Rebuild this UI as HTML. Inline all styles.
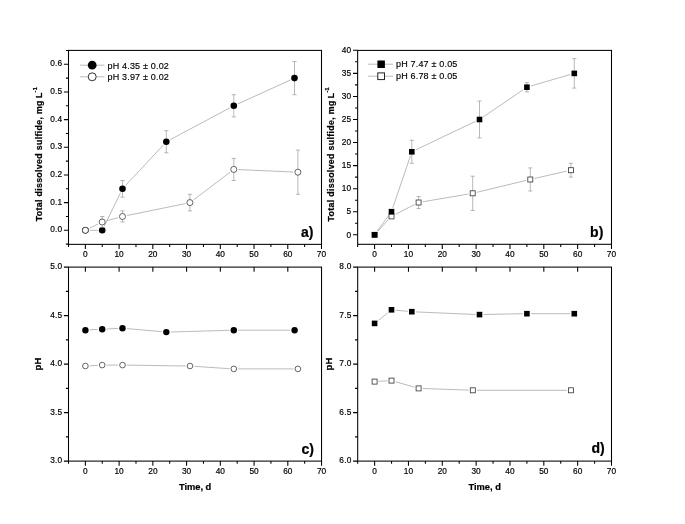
<!DOCTYPE html>
<html><head><meta charset="utf-8"><title>Figure</title>
<style>html,body{margin:0;padding:0;background:#fff}body{width:685px;height:524px;overflow:hidden}svg{display:block}</style>
</head><body>
<svg width="685" height="524" viewBox="0 0 685 524" font-family='"Liberation Sans", sans-serif'>
<rect width="685" height="524" fill="#fff"/>
<g stroke="#000" stroke-width="1.05" fill="none">
<rect x="68.5" y="50.4" width="253.00" height="193.95"/>
<path d="M85.37 244.35v4.6M119.10 244.35v4.6M152.83 244.35v4.6M186.57 244.35v4.6M220.30 244.35v4.6M254.03 244.35v4.6M287.77 244.35v4.6M321.50 244.35v4.6M68.50 244.35v2.6M102.23 244.35v2.6M135.97 244.35v2.6M169.70 244.35v2.6M203.43 244.35v2.6M237.17 244.35v2.6M270.90 244.35v2.6M304.63 244.35v2.6M68.5 230.30h-4.6M68.5 202.63h-4.6M68.5 174.97h-4.6M68.5 147.30h-4.6M68.5 119.63h-4.6M68.5 91.97h-4.6M68.5 64.30h-4.6M68.5 244.13h-2.6M68.5 216.47h-2.6M68.5 188.80h-2.6M68.5 161.13h-2.6M68.5 133.47h-2.6M68.5 105.80h-2.6M68.5 78.13h-2.6M68.5 50.46h-2.6"/>
</g>
<g font-size="8.3" fill="#000" stroke="#000" stroke-width="0.18" text-anchor="middle" letter-spacing="0.05">
<text x="85.4" y="257.4">0</text>
<text x="119.1" y="257.4">10</text>
<text x="152.8" y="257.4">20</text>
<text x="186.6" y="257.4">30</text>
<text x="220.3" y="257.4">40</text>
<text x="254.0" y="257.4">50</text>
<text x="287.8" y="257.4">60</text>
<text x="321.5" y="257.4">70</text>
</g>
<g font-size="8.3" fill="#000" stroke="#000" stroke-width="0.18" text-anchor="end" letter-spacing="0.2">
<text x="62.3" y="232.4">0.0</text>
<text x="62.3" y="204.7">0.1</text>
<text x="62.3" y="177.1">0.2</text>
<text x="62.3" y="149.4">0.3</text>
<text x="62.3" y="121.7">0.4</text>
<text x="62.3" y="94.1">0.5</text>
<text x="62.3" y="66.4">0.6</text>
</g>
<path d="M89.9 230.3L97.7 230.3M104.2 226.3L120.5 192.8M125.5 185.5L163.3 145.1M170.3 139.6L229.8 107.9M237.9 103.9L290.4 80.0" fill="none" stroke="#828282" stroke-width="0.55"/>
<g stroke="#8a8a8a" stroke-width="0.6" fill="none">
<path d="M122.5 180.5V197.1M120.4 180.5h4.2M120.4 197.1h4.2"/>
<path d="M166.3 130.7V152.8M164.2 130.7h4.2M164.2 152.8h4.2"/>
<path d="M233.8 94.7V116.9M231.7 94.7h4.2M231.7 116.9h4.2"/>
<path d="M294.5 61.5V94.7M292.4 61.5h4.2M292.4 94.7h4.2"/>
</g>
<circle cx="85.4" cy="230.3" r="3.30" fill="#000"/>
<circle cx="102.2" cy="230.3" r="3.30" fill="#000"/>
<circle cx="122.5" cy="188.8" r="3.30" fill="#000"/>
<circle cx="166.3" cy="141.8" r="3.30" fill="#000"/>
<circle cx="233.8" cy="105.8" r="3.30" fill="#000"/>
<circle cx="294.5" cy="78.1" r="3.30" fill="#000"/>
<path d="M89.5 228.3L98.1 224.0M106.7 220.8L118.0 217.7M127.0 215.5L185.4 203.6M193.6 199.9L230.1 172.2M238.4 169.6L293.3 172.0" fill="none" stroke="#828282" stroke-width="0.55"/>
<g stroke="#8a8a8a" stroke-width="0.6" fill="none">
<path d="M102.2 216.5V227.5M100.1 216.5h4.2M100.1 227.5h4.2"/>
<path d="M122.5 210.9V222.0M120.4 210.9h4.2M120.4 222.0h4.2"/>
<path d="M189.9 194.3V210.9M187.8 194.3h4.2M187.8 210.9h4.2"/>
<path d="M233.8 158.4V180.5M231.7 158.4h4.2M231.7 180.5h4.2"/>
<path d="M297.9 150.1V194.3M295.8 150.1h4.2M295.8 194.3h4.2"/>
</g>
<circle cx="85.4" cy="230.3" r="3.03" fill="#fff" stroke="#333" stroke-width="0.75"/>
<circle cx="102.2" cy="222.0" r="3.03" fill="#fff" stroke="#333" stroke-width="0.75"/>
<circle cx="122.5" cy="216.5" r="3.03" fill="#fff" stroke="#333" stroke-width="0.75"/>
<circle cx="189.9" cy="202.6" r="3.03" fill="#fff" stroke="#333" stroke-width="0.75"/>
<circle cx="233.8" cy="169.4" r="3.03" fill="#fff" stroke="#333" stroke-width="0.75"/>
<circle cx="297.9" cy="172.2" r="3.03" fill="#fff" stroke="#333" stroke-width="0.75"/>
<line x1="80" y1="65.2" x2="104.5" y2="65.2" stroke="#828282" stroke-width="0.55"/>
<circle cx="92.2" cy="65.2" r="4.35" fill="#000"/>
<text x="107.5" y="68.6" font-size="9" letter-spacing="0.18" fill="#000" stroke="#000" stroke-width="0.15">pH 4.35 ± 0.02</text>
<line x1="80" y1="76.8" x2="104.5" y2="76.8" stroke="#828282" stroke-width="0.55"/>
<circle cx="92.2" cy="76.8" r="3.98" fill="#fff" stroke="#1a1a1a" stroke-width="0.9"/>
<text x="107.5" y="80.2" font-size="9" letter-spacing="0.18" fill="#000" stroke="#000" stroke-width="0.15">pH 3.97 ± 0.02</text>
<text x="300.9" y="236.9" font-size="14" font-weight="bold" fill="#000" stroke="#000" stroke-width="0.22">a)</text>
<text transform="translate(42.3,154.1) rotate(-90)" text-anchor="middle" font-size="8.8" letter-spacing="0.33" font-weight="bold" fill="#000" stroke="#000" stroke-width="0.22">Total dissolved sulfide, mg<tspan dx="-0.7"> L</tspan><tspan font-size="5.5" dy="-5">-1</tspan></text>
<g stroke="#000" stroke-width="1.05" fill="none">
<rect x="357.65" y="50.4" width="253.85" height="193.90"/>
<path d="M374.57 244.3v4.6M408.42 244.3v4.6M442.27 244.3v4.6M476.11 244.3v4.6M509.96 244.3v4.6M543.81 244.3v4.6M577.65 244.3v4.6M611.50 244.3v4.6M357.65 244.3v2.6M391.50 244.3v2.6M425.34 244.3v2.6M459.19 244.3v2.6M493.04 244.3v2.6M526.88 244.3v2.6M560.73 244.3v2.6M594.58 244.3v2.6M357.65 234.80h-4.6M357.65 211.74h-4.6M357.65 188.68h-4.6M357.65 165.61h-4.6M357.65 142.55h-4.6M357.65 119.49h-4.6M357.65 96.43h-4.6M357.65 73.36h-4.6M357.65 50.30h-4.6M357.65 223.27h-2.6M357.65 200.21h-2.6M357.65 177.14h-2.6M357.65 154.08h-2.6M357.65 131.02h-2.6M357.65 107.96h-2.6M357.65 84.89h-2.6M357.65 61.83h-2.6"/>
</g>
<g font-size="8.3" fill="#000" stroke="#000" stroke-width="0.18" text-anchor="middle" letter-spacing="0.05">
<text x="374.6" y="257.3">0</text>
<text x="408.4" y="257.3">10</text>
<text x="442.3" y="257.3">20</text>
<text x="476.1" y="257.3">30</text>
<text x="510.0" y="257.3">40</text>
<text x="543.8" y="257.3">50</text>
<text x="577.7" y="257.3">60</text>
<text x="611.5" y="257.3">70</text>
</g>
<g font-size="8.3" fill="#000" stroke="#000" stroke-width="0.18" text-anchor="end" letter-spacing="0.2">
<text x="351.2" y="237.5" letter-spacing="0.05">0</text>
<text x="351.2" y="214.4" letter-spacing="0.05">5</text>
<text x="351.2" y="191.4" letter-spacing="0.05">10</text>
<text x="351.2" y="168.3" letter-spacing="0.05">15</text>
<text x="351.2" y="145.2" letter-spacing="0.05">20</text>
<text x="351.2" y="122.2" letter-spacing="0.05">25</text>
<text x="351.2" y="99.1" letter-spacing="0.05">30</text>
<text x="351.2" y="76.1" letter-spacing="0.05">35</text>
<text x="351.2" y="53.0" letter-spacing="0.05">40</text>
</g>
<path d="M377.9 231.1L388.1 220.0M395.5 214.3L414.6 204.5M422.7 201.8L468.6 194.0M476.8 192.3L526.2 180.4M534.3 178.5L566.8 171.1" fill="none" stroke="#828282" stroke-width="0.55"/>
<g stroke="#8a8a8a" stroke-width="0.6" fill="none">
<path d="M418.6 196.5V208.5M416.5 196.5h4.2M416.5 208.5h4.2"/>
<path d="M472.7 176.2V210.4M470.6 176.2h4.2M470.6 210.4h4.2"/>
<path d="M530.3 167.9V191.0M528.2 167.9h4.2M528.2 191.0h4.2"/>
<path d="M570.9 163.3V177.1M568.8 163.3h4.2M568.8 177.1h4.2"/>
</g>
<rect x="372.1" y="232.3" width="5.0" height="5.0" fill="#fff" stroke="#333" stroke-width="0.80"/>
<rect x="389.0" y="213.9" width="5.0" height="5.0" fill="#fff" stroke="#333" stroke-width="0.80"/>
<rect x="416.1" y="200.0" width="5.0" height="5.0" fill="#fff" stroke="#333" stroke-width="0.80"/>
<rect x="470.2" y="190.8" width="5.0" height="5.0" fill="#fff" stroke="#333" stroke-width="0.80"/>
<rect x="527.8" y="177.0" width="5.0" height="5.0" fill="#fff" stroke="#333" stroke-width="0.80"/>
<rect x="568.4" y="167.7" width="5.0" height="5.0" fill="#fff" stroke="#333" stroke-width="0.80"/>
<path d="M377.3 231.0L388.7 215.5M392.8 207.8L410.5 155.7M415.7 149.9L475.6 121.3M483.3 116.9L523.1 89.8M530.8 86.0L570.3 74.5" fill="none" stroke="#828282" stroke-width="0.55"/>
<g stroke="#8a8a8a" stroke-width="0.6" fill="none">
<path d="M411.8 140.2V163.3M409.7 140.2h4.2M409.7 163.3h4.2"/>
<path d="M479.5 101.0V137.9M477.4 101.0h4.2M477.4 137.9h4.2"/>
<path d="M526.9 82.6V91.8M524.8 82.6h4.2M524.8 91.8h4.2"/>
<path d="M574.3 58.6V88.1M572.2 58.6h4.2M572.2 88.1h4.2"/>
</g>
<rect x="371.8" y="232.0" width="5.6" height="5.6" fill="#000"/>
<rect x="388.7" y="208.9" width="5.6" height="5.6" fill="#000"/>
<rect x="409.0" y="149.0" width="5.6" height="5.6" fill="#000"/>
<rect x="476.7" y="116.7" width="5.6" height="5.6" fill="#000"/>
<rect x="524.1" y="84.4" width="5.6" height="5.6" fill="#000"/>
<rect x="571.5" y="70.6" width="5.6" height="5.6" fill="#000"/>
<line x1="368" y1="64.2" x2="393" y2="64.2" stroke="#828282" stroke-width="0.55"/>
<rect x="377.4" y="60.5" width="7.5" height="7.5" fill="#000"/>
<text x="396" y="67.4" font-size="9" letter-spacing="0.18" fill="#000" stroke="#000" stroke-width="0.15">pH 7.47 ± 0.05</text>
<line x1="368" y1="76.2" x2="393" y2="76.2" stroke="#828282" stroke-width="0.55"/>
<rect x="377.8" y="72.9" width="6.7" height="6.7" fill="#fff" stroke="#1a1a1a" stroke-width="0.95"/>
<text x="396" y="79.4" font-size="9" letter-spacing="0.18" fill="#000" stroke="#000" stroke-width="0.15">pH 6.78 ± 0.05</text>
<text x="590" y="236.5" font-size="14" font-weight="bold" letter-spacing="0.2" fill="#000" stroke="#000" stroke-width="0.22">b)</text>
<text transform="translate(334.4,154.3) rotate(-90)" text-anchor="middle" font-size="8.8" letter-spacing="0.33" font-weight="bold" fill="#000" stroke="#000" stroke-width="0.22">Total dissolved sulfide, mg<tspan dx="-0.7"> L</tspan><tspan font-size="5.5" dy="-5">-1</tspan></text>
<g stroke="#000" stroke-width="1.05" fill="none">
<rect x="68.5" y="267.1" width="253.05" height="194.00"/>
<path d="M85.37 461.1v4.6M85.37 267.1v4.6M119.11 461.1v4.6M119.11 267.1v4.6M152.85 461.1v4.6M152.85 267.1v4.6M186.59 461.1v4.6M186.59 267.1v4.6M220.33 461.1v4.6M220.33 267.1v4.6M254.07 461.1v4.6M254.07 267.1v4.6M287.81 461.1v4.6M287.81 267.1v4.6M321.55 461.1v4.6M68.50 461.1v2.6M102.24 461.1v2.6M135.98 461.1v2.6M169.72 461.1v2.6M203.46 461.1v2.6M237.20 461.1v2.6M270.94 461.1v2.6M304.68 461.1v2.6M68.5 461.10h-4.6M68.5 412.60h-4.6M68.5 364.10h-4.6M68.5 315.60h-4.6M68.5 267.10h-4.6M68.5 436.85h-2.6M68.5 388.35h-2.6M68.5 339.85h-2.6M68.5 291.35h-2.6"/>
</g>
<g font-size="8.3" fill="#000" stroke="#000" stroke-width="0.18" text-anchor="middle" letter-spacing="0.05">
<text x="85.4" y="474.1">0</text>
<text x="119.1" y="474.1">10</text>
<text x="152.9" y="474.1">20</text>
<text x="186.6" y="474.1">30</text>
<text x="220.3" y="474.1">40</text>
<text x="254.1" y="474.1">50</text>
<text x="287.8" y="474.1">60</text>
<text x="321.6" y="474.1">70</text>
</g>
<g font-size="8.3" fill="#000" stroke="#000" stroke-width="0.18" text-anchor="end" letter-spacing="0.2">
<text x="62.3" y="463.2">3.0</text>
<text x="62.3" y="414.7">3.5</text>
<text x="62.3" y="366.2">4.0</text>
<text x="62.3" y="317.7">4.5</text>
<text x="62.3" y="269.2">5.0</text>
</g>
<path d="M89.8 329.9L97.8 329.4M106.6 329.0L118.1 328.4M126.9 328.6L162.0 331.7M170.7 332.0L229.4 330.3M238.2 330.2L290.2 330.2" fill="none" stroke="#828282" stroke-width="0.55"/>
<circle cx="85.4" cy="330.2" r="3.20" fill="#000"/>
<circle cx="102.2" cy="329.2" r="3.20" fill="#000"/>
<circle cx="122.5" cy="328.2" r="3.20" fill="#000"/>
<circle cx="166.3" cy="332.1" r="3.20" fill="#000"/>
<circle cx="233.8" cy="330.2" r="3.20" fill="#000"/>
<circle cx="294.6" cy="330.2" r="3.20" fill="#000"/>
<path d="M89.8 365.8L97.8 365.3M106.6 365.1L118.1 365.1M126.9 365.1L185.6 366.0M194.4 366.3L229.4 368.7M238.2 368.9L293.5 368.9" fill="none" stroke="#828282" stroke-width="0.55"/>
<circle cx="85.4" cy="366.0" r="2.83" fill="#fff" stroke="#333" stroke-width="0.75"/>
<circle cx="102.2" cy="365.1" r="2.83" fill="#fff" stroke="#333" stroke-width="0.75"/>
<circle cx="122.5" cy="365.1" r="2.83" fill="#fff" stroke="#333" stroke-width="0.75"/>
<circle cx="190.0" cy="366.0" r="2.83" fill="#fff" stroke="#333" stroke-width="0.75"/>
<circle cx="233.8" cy="368.9" r="2.83" fill="#fff" stroke="#333" stroke-width="0.75"/>
<circle cx="297.9" cy="368.9" r="2.83" fill="#fff" stroke="#333" stroke-width="0.75"/>
<text x="301.5" y="454.3" font-size="14" font-weight="bold" fill="#000" stroke="#000" stroke-width="0.22">c)</text>
<text transform="translate(40.8,363.9) rotate(-90)" text-anchor="middle" font-size="9.5" letter-spacing="0.3" font-weight="bold" fill="#000" stroke="#000" stroke-width="0.22">pH</text>
<text x="195.1" y="490.2" text-anchor="middle" font-size="9.3" font-weight="bold" fill="#000" stroke="#000" stroke-width="0.22">Time, d</text>
<g stroke="#000" stroke-width="1.05" fill="none">
<rect x="357.7" y="267.1" width="253.80" height="194.00"/>
<path d="M374.62 461.1v4.6M374.62 267.1v4.6M408.46 461.1v4.6M408.46 267.1v4.6M442.30 461.1v4.6M442.30 267.1v4.6M476.14 461.1v4.6M476.14 267.1v4.6M509.98 461.1v4.6M509.98 267.1v4.6M543.82 461.1v4.6M543.82 267.1v4.6M577.66 461.1v4.6M577.66 267.1v4.6M611.50 461.1v4.6M357.70 461.1v2.6M391.54 461.1v2.6M425.38 461.1v2.6M459.22 461.1v2.6M493.06 461.1v2.6M526.90 461.1v2.6M560.74 461.1v2.6M594.58 461.1v2.6M357.7 461.10h-4.6M357.7 412.60h-4.6M357.7 364.10h-4.6M357.7 315.60h-4.6M357.7 267.10h-4.6M357.7 436.85h-2.6M357.7 388.35h-2.6M357.7 339.85h-2.6M357.7 291.35h-2.6"/>
</g>
<g font-size="8.3" fill="#000" stroke="#000" stroke-width="0.18" text-anchor="middle" letter-spacing="0.05">
<text x="374.6" y="474.1">0</text>
<text x="408.5" y="474.1">10</text>
<text x="442.3" y="474.1">20</text>
<text x="476.1" y="474.1">30</text>
<text x="510.0" y="474.1">40</text>
<text x="543.8" y="474.1">50</text>
<text x="577.7" y="474.1">60</text>
<text x="611.5" y="474.1">70</text>
</g>
<g font-size="8.3" fill="#000" stroke="#000" stroke-width="0.18" text-anchor="end" letter-spacing="0.2">
<text x="351.5" y="463.2">6.0</text>
<text x="351.5" y="414.7">6.5</text>
<text x="351.5" y="366.2">7.0</text>
<text x="351.5" y="317.7">7.5</text>
<text x="351.5" y="269.2">8.0</text>
</g>
<path d="M378.4 320.4L387.8 312.8M395.5 310.2L407.8 311.3M415.8 311.9L475.5 314.5M483.5 314.5L522.9 313.7M530.9 313.7L570.3 313.7" fill="none" stroke="#828282" stroke-width="0.55"/>
<rect x="371.8" y="320.6" width="5.6" height="5.6" fill="#000"/>
<rect x="388.7" y="307.0" width="5.6" height="5.6" fill="#000"/>
<rect x="409.0" y="308.9" width="5.6" height="5.6" fill="#000"/>
<rect x="476.7" y="311.8" width="5.6" height="5.6" fill="#000"/>
<rect x="524.1" y="310.9" width="5.6" height="5.6" fill="#000"/>
<rect x="571.5" y="310.9" width="5.6" height="5.6" fill="#000"/>
<path d="M378.7 381.3L387.4 380.8M395.6 381.8L414.6 387.2M422.7 388.5L468.7 390.1M476.9 390.3L566.8 390.3" fill="none" stroke="#828282" stroke-width="0.55"/>
<rect x="372.1" y="379.1" width="5.0" height="5.0" fill="#fff" stroke="#333" stroke-width="0.80"/>
<rect x="389.0" y="378.1" width="5.0" height="5.0" fill="#fff" stroke="#333" stroke-width="0.80"/>
<rect x="416.1" y="385.9" width="5.0" height="5.0" fill="#fff" stroke="#333" stroke-width="0.80"/>
<rect x="470.3" y="387.8" width="5.0" height="5.0" fill="#fff" stroke="#333" stroke-width="0.80"/>
<rect x="568.4" y="387.8" width="5.0" height="5.0" fill="#fff" stroke="#333" stroke-width="0.80"/>
<text x="591.5" y="453.2" font-size="14" font-weight="bold" fill="#000" stroke="#000" stroke-width="0.22">d)</text>
<text transform="translate(332.3,363.9) rotate(-90)" text-anchor="middle" font-size="9.5" letter-spacing="0.3" font-weight="bold" fill="#000" stroke="#000" stroke-width="0.22">pH</text>
<text x="484.7" y="490.2" text-anchor="middle" font-size="9.3" font-weight="bold" fill="#000" stroke="#000" stroke-width="0.22">Time, d</text>
</svg>
</body></html>
